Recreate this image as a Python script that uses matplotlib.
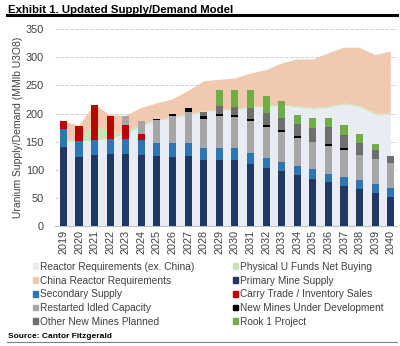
import matplotlib
matplotlib.use('Agg')
import matplotlib.pyplot as plt
from matplotlib.patches import Patch
import numpy as np

plt.rcParams['font.family'] = ['Liberation Sans', 'DejaVu Sans']

years = list(range(2019, 2041))
# demand areas (stacked)
ex_china = [150, 150, 152, 155, 163, 178, 186, 192, 197, 202, 205, 206, 210, 212,
            214, 211, 208, 210, 216, 212, 198, 198]
funds = [5, 3, 25, 12, 6, 3, 2, 2, 2, 2, 2, 2, 2, 2, 2, 2, 2, 2, 2, 2, 2, 2]
total_demand = [186, 178, 216, 197, 196, 210, 218, 225, 240, 257, 260, 262, 271, 277,
                289, 296, 296, 307, 317, 317, 304, 310]
china = [t - e - f for t, e, f in zip(total_demand, ex_china, funds)]

# supply bars (stacked)
primary = [141, 123, 127, 128, 128, 126, 125, 123, 124, 118, 118, 118, 110, 104,
           97, 90, 84, 78, 72, 65, 58, 51]
secondary = [32, 28, 26, 27, 27, 27, 22, 24, 23, 20, 20, 20, 20, 17,
             17, 17, 17, 15, 15, 16, 17, 17]
carry = [13, 26, 63, 40, 25, 10, 0, 0, 0, 0, 0, 0, 0, 0,
         0, 0, 0, 0, 0, 0, 0, 0]
restarted = [0, 0, 0, 0, 15, 24, 42, 48, 55, 53, 57, 55, 56, 55,
             53, 50, 48, 49, 49, 45, 45, 44]
new_dev = [0, 0, 0, 0, 0, 0, 2, 4, 7, 5, 5, 5, 5, 4,
           3, 3, 0, 3, 2, 0, 0, 0]
other_new = [0, 0, 0, 0, 0, 0, 0, 0, 0, 7, 14, 13, 19, 21,
             22, 21, 25, 31, 24, 21, 16, 13]
rook = [0, 0, 0, 0, 0, 0, 0, 0, 0, 0, 27, 30, 31, 30,
        30, 16, 18, 16, 18, 17, 9, 0]

c_exchina = '#e9ecf3'
c_funds = '#c5e5b4'
c_china = '#f1c9b0'
bar_series = [
    ('Primary Mine Supply', primary, '#1f3864'),
    ('Secondary Supply', secondary, '#2e75b6'),
    ('Carry Trade / Inventory Sales', carry, '#c00000'),
    ('Restarted Idled Capacity', restarted, '#a6a6a6'),
    ('New Mines Under Development', new_dev, '#000000'),
    ('Other New Mines Planned', other_new, '#6e6e6e'),
    ('Rook 1 Project', rook, '#70ad47'),
]

fig = plt.figure(figsize=(4.0, 3.46), dpi=100)
ax = fig.add_axes([0.1375, 0.3468, 0.855, 0.569])

ax.stackplot(years, ex_china, funds, china,
             colors=[c_exchina, c_funds, c_china], linewidth=0)

bottom = np.zeros(len(years))
for name, vals, col in bar_series:
    ax.bar(years, vals, 0.45, bottom=bottom, color=col, linewidth=0, zorder=3)
    bottom += np.array(vals)

ax.set_ylim(0, 350)
ax.set_xlim(2018.46, 2040.4)
ax.set_yticks(range(0, 351, 50))
ax.set_xticks(years)
ax.set_xticklabels([str(y) for y in years], rotation=90)
ax.tick_params(axis='both', labelsize=7.8, colors='#404040', length=0, pad=3)
ax.tick_params(axis='y', pad=8)
ax.yaxis.grid(True, color='#c8c8c8', linestyle=(0, (4, 2)), linewidth=0.6)
ax.set_axisbelow(True)
for s in ['top', 'right', 'left']:
    ax.spines[s].set_visible(False)
ax.spines['bottom'].set_color('#bfbfbf')
ax.spines['bottom'].set_linewidth(0.8)
ax.set_ylabel('Uranium Supply/Demand (MMlb U3O8)', fontsize=7.5, color='#404040', labelpad=2)

# title and rules
fig.text(0.02, 0.972, 'Exhibit 1. Updated Supply/Demand Model', fontsize=8.2,
         fontweight='bold', ha='left', va='center')
fig.add_artist(plt.Line2D([0.018, 0.993], [0.956, 0.956], color='black', linewidth=2.2))

p = {name: Patch(color=col, label=name) for name, _, col in bar_series}
handles = [
    Patch(color=c_exchina, label='Reactor Requirements (ex. China)'),
    Patch(color=c_china, label='China Reactor Requirements'),
    p['Secondary Supply'],
    p['Restarted Idled Capacity'],
    p['Other New Mines Planned'],
    Patch(color=c_funds, label='Physical U Funds Net Buying'),
    p['Primary Mine Supply'],
    p['Carry Trade / Inventory Sales'],
    p['New Mines Under Development'],
    p['Rook 1 Project'],
]
leg = fig.legend(handles=handles, ncol=2, loc='upper left', bbox_to_anchor=(0.0825, 0.243),
                 frameon=False, fontsize=7.3, handlelength=0.5, handleheight=0.5,
                 handletextpad=0.15, columnspacing=3.9, labelspacing=0.37,
                 borderaxespad=0, borderpad=0)
for t in leg.get_texts():
    t.set_color('#404040')

fig.text(0.02, 0.028, 'Source: Cantor Fitzgerald', fontsize=6, fontweight='bold',
         ha='left', va='center')
fig.add_artist(plt.Line2D([0.018, 0.993], [0.012, 0.012], color='#808080', linewidth=0.8))

fig.savefig('out.png', dpi=100)
